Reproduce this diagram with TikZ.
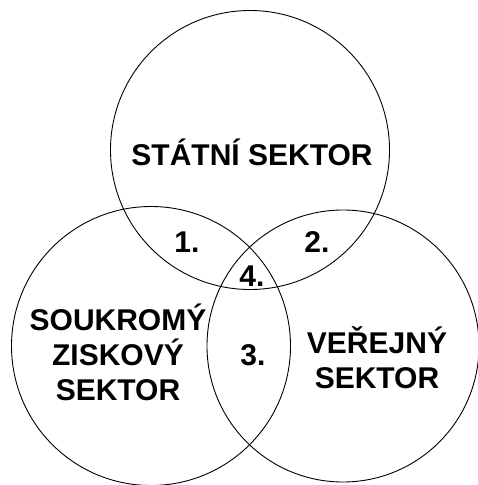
\documentclass[tikz,border=0pt]{standalone}
\usepackage{fontspec}
\setmainfont{Liberation Sans}
\begin{document}
\begin{tikzpicture}[x=1pt,y=-1pt,
  ring/.style={draw=black,line width=0.9pt,circle,minimum size=#1},
  lbl/.style={font=\fontsize{30}{35}\selectfont\bfseries,align=center,inner sep=0pt}]
\useasboundingbox (0,0) rectangle (477,485);
\fill[white] (0,0) rectangle (477,485);
\node[ring=279pt] (top) at (250,150) {};
\node[ring=279pt] (left) at (151,346) {};
\node[ring=272pt] (right) at (343,346) {};
\node[lbl] (t1) at (252,152) {STÁTNÍ SEKTOR};
\node[lbl] (n1) at (187,242) {1.};
\node[lbl] (n2) at (317,242) {2.};
\node[lbl] (n4) at (252,276) {4.};
\node[lbl] (n3) at (253,355) {3.};
\node[lbl] (t2) at (118,352) {SOUKROMÝ\\ZISKOVÝ\\SEKTOR};
\node[lbl] (t3) at (377,358) {VEŘEJNÝ\\SEKTOR};
\end{tikzpicture}
\end{document}
